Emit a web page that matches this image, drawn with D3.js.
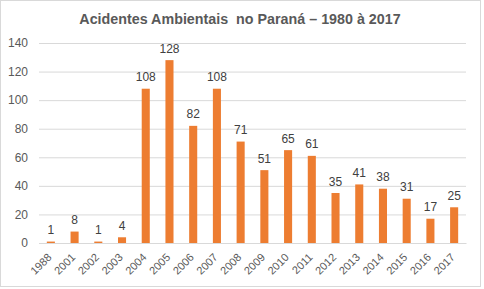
<!DOCTYPE html>
<html>
<head>
<meta charset="utf-8">
<script src="https://cdn.jsdelivr.net/npm/d3@7"></script>
<style>
  body { margin: 0; background: #fff; }
  svg { font-family: "Liberation Sans", Arial, sans-serif; display: block; }
</style>
</head>
<body>
<svg id="chart" width="484" height="289"></svg>
<script>
// valores
const years = ["1988", "2001", "2002", "2003", "2004", "2005", "2006", "2007", "2008",
               "2009", "2010", "2011", "2012", "2013", "2014", "2015", "2016", "2017"];
const accidents = [1, 8, 1, 4, 108, 128, 82, 108, 71, 51, 65, 61, 35, 41, 38, 31, 17, 25];
const yTicks = [0, 20, 40, 60, 80, 100, 120, 140];

const margin = {top: 43, right: 18, bottom: 46, left: 39};
const width = 484, height = 289;
const svg = d3.select("#chart");

// moldura
svg.append("rect")
    .attr("x", 0.5).attr("y", 0.5)
    .attr("width", 480).attr("height", 286)
    .attr("fill", "#fff")
    .attr("stroke", "#d9d9d9");

svg.append("text")
    .attr("x", 240).attr("y", 24)
    .attr("text-anchor", "middle")
    .style("font-size", "14.3px")
    .style("font-weight", "bold")
    .style("fill", "#595959")
    .style("white-space", "pre")
    .text("Acidentes Ambientais  no Paraná – 1980 à 2017");

const x = d3.scaleBand()
    .domain(years)
    .range([margin.left, width - margin.right])
    .paddingInner(0.66)
    .paddingOuter(0.33);

const y = d3.scaleLinear()
    .domain([0, 140])
    .range([height - margin.bottom, margin.top]);

// grade + eixo y
const yAxis = svg.append("g")
    .attr("transform", "translate(" + margin.left + ",0)")
    .call(d3.axisLeft(y).tickValues(yTicks).tickSize(-(width - margin.right - margin.left)).tickPadding(11));
yAxis.select(".domain").remove();
yAxis.selectAll(".tick line").attr("stroke", "#d9d9d9");
yAxis.selectAll(".tick text")
    .style("font-size", "12px")
    .style("fill", "#595959");

svg.append("g").selectAll("rect.bar")
    .data(accidents)
    .enter()
    .append("rect")
    .attr("class", "bar")
    .style("fill", "#ed7d31")
    .attr("x", (d, i) => x(years[i]))
    .attr("width", x.bandwidth())
    .attr("y", d => y(d))
    .attr("height", d => y(0) - y(d));

svg.append("g").selectAll("text.lbl")
    .data(accidents)
    .enter()
    .append("text")
    .attr("class", "lbl")
    .attr("x", (d, i) => x(years[i]) + x.bandwidth() / 2)
    .attr("y", d => y(d) - 7.5)
    .attr("text-anchor", "middle")
    .style("font-size", "12px")
    .style("fill", "#404040")
    .text(d => d);

// eixo x
const xAxis = svg.append("g")
    .attr("transform", "translate(0," + y(0) + ")")
    .call(d3.axisBottom(x).tickSize(0).tickPadding(0));
xAxis.select(".domain").attr("stroke", "#d9d9d9");
xAxis.selectAll(".tick text")
    .style("font-size", "11px")
    .style("fill", "#595959")
    .attr("text-anchor", "end")
    .attr("dy", "0")
    .attr("transform", "translate(1.5,15) rotate(-45)");
</script>
</body>
</html>
